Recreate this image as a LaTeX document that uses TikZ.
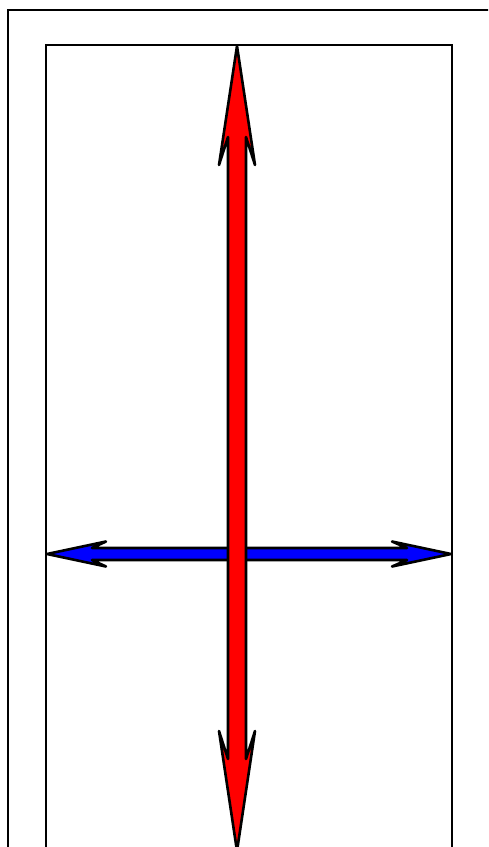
\documentclass[tikz,border=0pt]{standalone}
\begin{document}
\begin{tikzpicture}[x=1pt,y=-1pt,
  frame/.style={draw=black,line width=2.4pt},
  arrowshape/.style={draw=black,line width=2.6pt,line join=round}]
\useasboundingbox (0,0) rectangle (488,847);
\begin{scope}
\clip (0,0) rectangle (488,847);
\draw[frame] (8,10) rectangle (520,900);
\draw[frame] (46,45) rectangle (452,900);
% blue horizontal double arrow
\coordinate (bl) at (47,554);
\coordinate (br) at (451,554);
\filldraw[arrowshape,fill=blue]
  (bl) -- (106,541.5) -- (92,548) -- (407,548) -- (392,541.5) -- (br)
  -- (392,566.5) -- (407,560) -- (92,560) -- (106,566.5) -- cycle;
% red vertical double arrow
\coordinate (rt) at (237,46);
\coordinate (rb) at (237,851);
\filldraw[arrowshape,fill=red]
  (rt) -- (255,165) -- (246,137) -- (246,759) -- (255,731) -- (rb)
  -- (219,731) -- (228,759) -- (228,137) -- (219,165) -- cycle;
\end{scope}
\end{tikzpicture}
\end{document}
